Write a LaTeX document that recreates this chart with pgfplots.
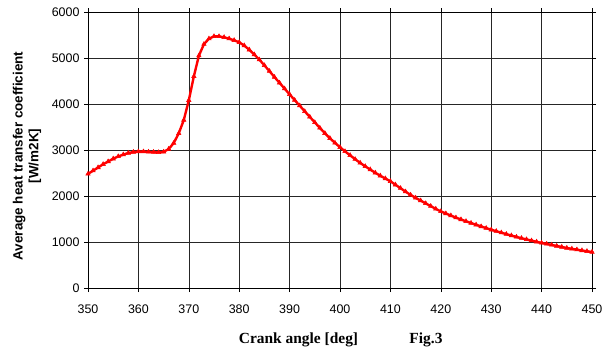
\documentclass[border=0pt]{standalone}
\usepackage{pgfplots}
\pgfplotsset{compat=1.18}
\usepackage{fontspec}
\setmainfont{Liberation Serif}
\setsansfont{Liberation Sans}
\begin{document}
\begin{tikzpicture}[x=1bp,y=1bp]
\path[use as bounding box] (0,0) rectangle (609,354);
\begin{axis}[at={(88bp,66bp)}, anchor=south west, scale only axis, width=504bp, height=276bp,
  xmin=350, xmax=450, ymin=0, ymax=6000,
  xtick={350,360,...,450}, ytick={0,1000,...,6000},
  grid=major, major grid style={black!85, line width=0.6pt},
  axis line style={black, line width=0.6pt},
  tick align=outside, major tick length=4bp, tick style={black, line width=0.6pt},
  ticklabel style={font=\sffamily\fontsize{12.5}{14}\selectfont},
  /pgf/number format/assume math mode=true,
  /pgf/number format/set thousands separator={},
  scaled y ticks=false,
  xticklabel style={yshift=-9bp},
  yticklabel style={xshift=-1bp},
]
\addplot[red, line width=2.4pt, mark=triangle*, mark size=2.6pt, mark options={fill=red, solid, line width=0.5pt}] coordinates {
(350,2480)(351,2550)(352,2620)(353,2690)(354,2750)(355,2810)(356,2860)(357,2900)(358,2935)(359,2955)
(360,2965)(361,2965)(362,2960)(363,2955)(364,2950)(365,2960)(366,3020)(367,3150)(368,3360)(369,3650)
(370,4080)(371,4600)(372,5050)(373,5300)(374,5420)(375,5470)(376,5470)(377,5450)(378,5420)(379,5385)
(380,5340)(381,5270)(382,5180)(383,5075)(384,4965)(385,4840)(386,4715)(387,4585)(388,4460)(389,4335)
(390,4210)(391,4085)(392,3965)(393,3840)(394,3720)(395,3600)(396,3480)(397,3365)(398,3255)(399,3155)
(400,3060)(401,2970)(402,2885)(403,2800)(404,2720)(405,2645)(406,2575)(407,2505)(408,2440)(409,2380)
(410,2320)(411,2245)(412,2170)(413,2095)(414,2025)(415,1960)(416,1900)(417,1840)(418,1780)(419,1720)
(420,1665)(421,1620)(422,1575)(423,1530)(424,1490)(425,1450)(426,1412)(427,1375)(428,1338)(429,1302)
(430,1267)(431,1235)(432,1203)(433,1172)(434,1140)(435,1110)(436,1083)(437,1056)(438,1030)(439,1004)
(440,980)(441,958)(442,936)(443,914)(444,892)(445,870)(446,852)(447,834)(448,816)(449,799)
(450,783)
};
\end{axis}
\node[rotate=90, align=center, font=\sffamily\bfseries\fontsize{13.5}{16}\selectfont] at (27,198) {Average heat transfer coefficient\\{[W/m2K]}};
\node[font=\bfseries\fontsize{15.5}{17}\selectfont] at (298.5,14) {Crank angle [deg]};
\node[font=\bfseries\fontsize{15.5}{17}\selectfont] at (426,14) {Fig.3};
\end{tikzpicture}
\end{document}
